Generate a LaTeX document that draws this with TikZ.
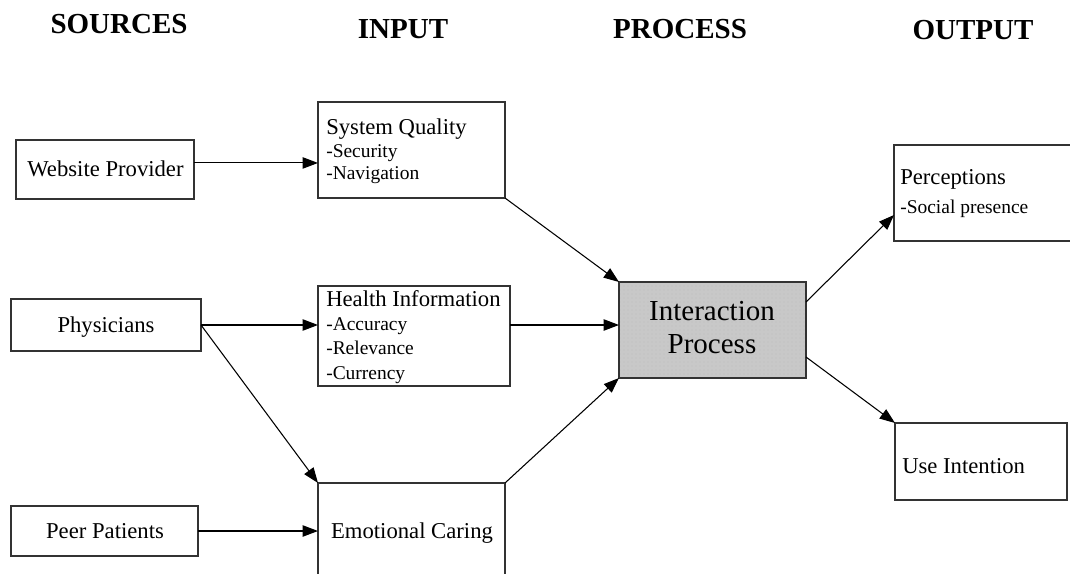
\documentclass[tikz,border=0pt]{standalone}
\usepackage{fontspec}
\setmainfont{Liberation Serif}
\usetikzlibrary{arrows.meta,patterns}
\begin{document}
\begin{tikzpicture}[x=0.75pt,y=-0.75pt,
  box/.style={draw=black!80,line width=1.1pt,inner sep=0pt,outer sep=0pt,rectangle},
  arr/.style={draw=black,line width=0.8pt,-{Triangle[length=11.5pt,width=8.5pt]}},
  head/.style={font=\fontsize{21.75}{26}\selectfont\bfseries,inner sep=0pt,anchor=base},
  big/.style={font=\fontsize{17}{20}\selectfont,inner sep=0pt},
  small/.style={font=\fontsize{14.6}{17}\selectfont,inner sep=0pt,anchor=base west},
  huge/.style={font=\fontsize{21.75}{26}\selectfont,inner sep=0pt,anchor=base}]
\clip (0,0) rectangle (1070,574);
\fill[white] (0,0) rectangle (1070,574);
% headers
\node[head] (hsrc) at (119,34) {SOURCES};
\node[head] (hin) at (403,39) {INPUT};
\node[head] (hpr) at (680,39) {PROCESS};
\node[head] (hout) at (973,40) {OUTPUT};
% boxes
\node[box,minimum width=178*0.75pt,minimum height=59*0.75pt] (wp) at (105,169.5) {};
\node[box,minimum width=190*0.75pt,minimum height=52*0.75pt] (ph) at (106,325) {};
\node[box,minimum width=187*0.75pt,minimum height=50*0.75pt] (pp) at (104.5,531) {};
\node[box,minimum width=187*0.75pt,minimum height=96*0.75pt] (sq) at (411.5,150) {};
\node[box,minimum width=192*0.75pt,minimum height=100*0.75pt] (hi) at (414,336) {};
\node[box,minimum width=187*0.75pt,minimum height=120*0.75pt] (ec) at (411.5,543) {};
\node[box,fill={rgb,255:red,200;green,200;blue,200},minimum width=187*0.75pt,minimum height=96*0.75pt] (ip) at (712.5,330) {};
\fill[pattern=dots,pattern color=black!25] (ip.south west) rectangle (ip.north east);
\node[box,minimum width=187*0.75pt,minimum height=96*0.75pt] (ipb) at (712.5,330) {};
\node[box,minimum width=186*0.75pt,minimum height=96*0.75pt] (pe) at (987,193) {};
\node[box,minimum width=172*0.75pt,minimum height=77*0.75pt] (ui) at (981,461.5) {};
% texts
\node[big,anchor=base] (twp) at (105.5,176) {Website Provider};
\node[big,anchor=base] (tph) at (106,332) {Physicians};
\node[big,anchor=base] (tpp) at (105,538) {Peer Patients};
\node[big,anchor=base west] (tsq) at (326,135) {System Quality};
\node[small] (tsq1) at (326,157) {-Security};
\node[small] (tsq2) at (326,180) {-Navigation};
\node[big,anchor=base west] (thi) at (326,306) {Health Information};
\node[small] (thi1) at (326,330) {-Accuracy};
\node[small] (thi2) at (326,354) {-Relevance};
\node[small] (thi3) at (326,379) {-Currency};
\node[big,anchor=base] (tec) at (412,538) {Emotional Caring};
\node[huge] (tip1) at (712,320) {Interaction};
\node[huge] (tip2) at (712,353) {Process};
\node[big,anchor=base west] (tpe) at (900,185) {Perceptions};
\node[small] (tpe1) at (900,213) {-Social presence};
\node[big,anchor=base west] (tui) at (902,473) {Use Intention};
% connectors
\draw[arr] ([yshift=4.9pt]wp.east) -- ([yshift=4.9pt]wp.east -| sq.west);
\draw[arr] (ph.east) -- (ph.east -| hi.west);
\draw[arr] (ph.east) -- (ec.north west);
\draw[arr] (pp.east) -- (pp.east -| ec.west);
\draw[arr] (sq.south east) -- (ip.north west);
\draw[arr] (ph.east -| hi.east) -- (ph.east -| ip.west);
\draw[arr] (ec.north east) -- (ip.south west);
\draw[arr] ([yshift=-15pt]ip.north east) -- ([yshift=19.5pt]pe.south west);
\draw[arr] ([yshift=15.75pt]ip.south east) -- (ui.north west);
\end{tikzpicture}
\end{document}
